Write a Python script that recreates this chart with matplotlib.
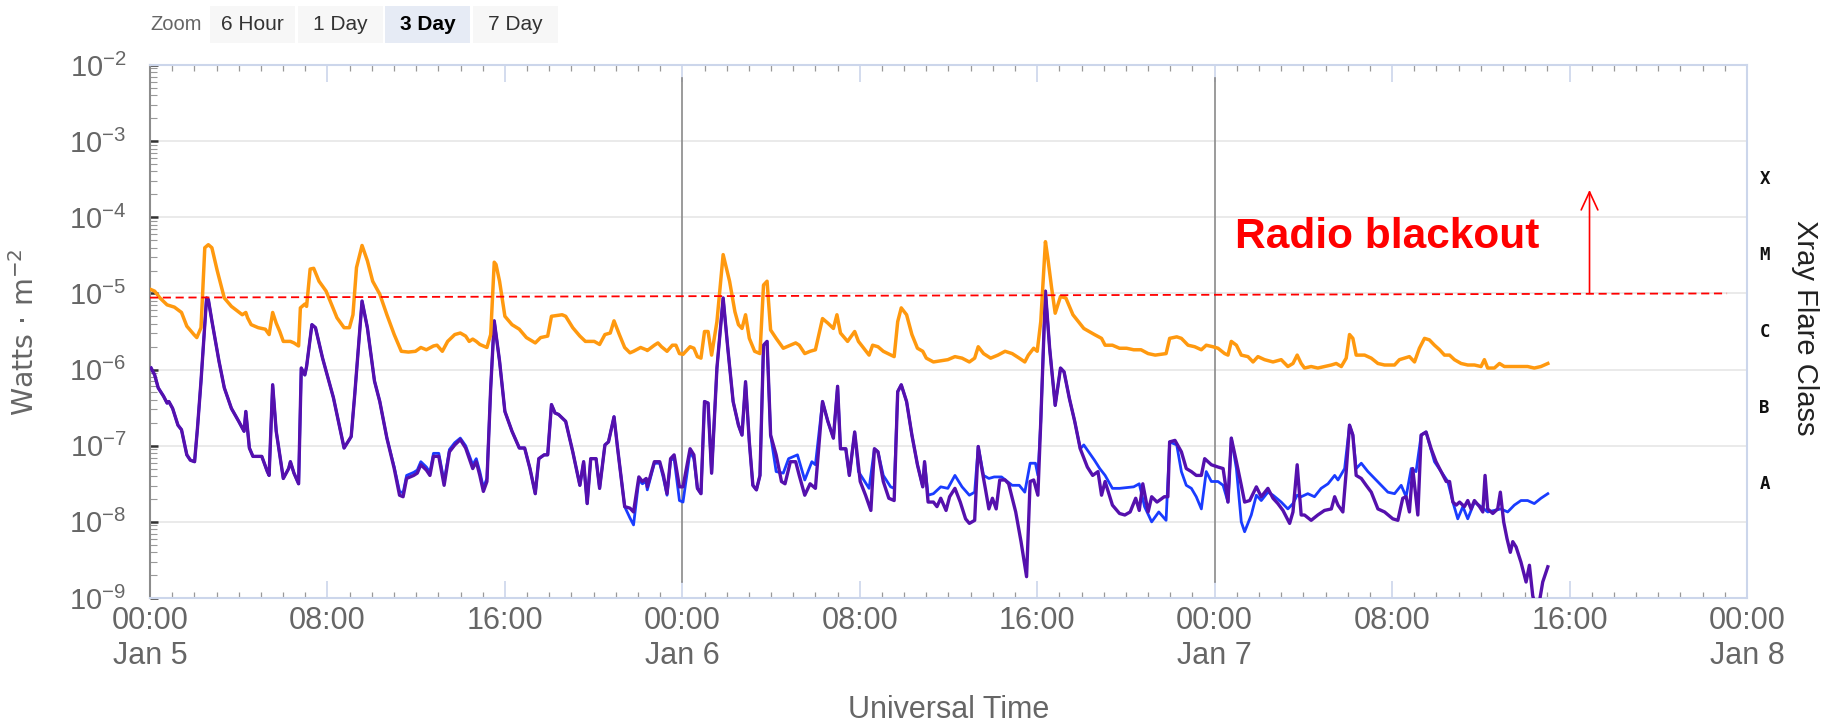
import numpy as np
import matplotlib
matplotlib.use("Agg")
import matplotlib.pyplot as plt
import matplotlib.transforms as mtransforms
from matplotlib.ticker import LogLocator, NullFormatter
from matplotlib.patches import Rectangle

plt.rcParams['font.family'] = ['Liberation Sans', 'DejaVu Sans']
plt.rcParams['mathtext.fontset'] = 'custom'
plt.rcParams['mathtext.rm'] = 'Liberation Sans'
plt.rcParams['mathtext.default'] = 'regular'

# ---- data: hours since Jan 5 00:00 UT, log10(flux in W/m^2) ----
long_hours = [
    0.05, 0.21, 0.45, 0.77, 1.10, 1.42, 1.66, 1.98, 2.11, 2.30, 2.47, 2.63, 2.79, 3.03, 3.35, 3.67, 4.16, 4.32, 4.40, 4.56,
    4.88, 5.20, 5.37, 5.53, 5.69, 5.85, 6.01, 6.33, 6.49, 6.70, 6.78, 6.98, 7.06, 7.22, 7.38, 7.62, 7.94, 8.43, 8.75, 8.99,
    9.15, 9.31, 9.56, 9.80, 10.04, 10.36, 10.68, 11.01, 11.33, 11.65, 11.97, 12.21, 12.46, 12.78, 12.94, 13.18, 13.42, 13.74, 13.99, 14.23,
    14.39, 14.55, 14.71, 14.87, 15.19, 15.36, 15.52, 15.60, 15.76, 16.00, 16.32, 16.65, 16.97, 17.37, 17.61, 17.93, 18.10, 18.58, 18.74, 19.06,
    19.38, 19.63, 19.79, 20.03, 20.27, 20.51, 20.75, 20.92, 21.16, 21.40, 21.64, 21.80, 22.12, 22.37,
    22.42, 22.74, 22.90, 23.06, 23.31, 23.55, 23.71, 23.87, 24.03, 24.35, 24.52, 24.68, 24.84, 25.00, 25.16, 25.32, 25.56, 25.84, 26.13, 26.37,
    26.53, 26.69, 26.85, 27.02, 27.26, 27.50, 27.66, 27.82, 27.98, 28.23, 28.55, 28.87, 29.11, 29.27, 29.52, 29.76, 30.00, 30.32, 30.56, 30.81,
    30.97, 31.13, 31.45, 31.77, 31.94, 32.18, 32.42, 32.58, 32.82, 33.06, 33.55, 33.71, 33.87, 34.11, 34.35, 34.60, 34.84, 35.00, 35.32, 35.97,
    36.29, 36.61, 36.94, 37.18, 37.34, 37.58, 37.90, 38.23, 38.55, 38.87, 39.19, 39.44, 39.60, 39.84, 40.00, 40.16, 40.37, 40.48, 40.65, 40.81,
    41.05, 41.29, 41.61, 42.10, 42.58, 42.90, 43.06, 43.39, 43.71, 44.03, 44.35, 44.68, 45.00, 45.32, 45.81, 45.97, 46.29,
    46.50, 46.80, 47.10, 47.40, 47.62, 47.92, 48.15, 48.45, 48.60, 48.75, 48.98, 49.20, 49.50, 49.73, 49.95, 50.25, 50.63, 51.00, 51.30, 51.53,
    51.72, 51.90, 52.05, 52.35, 52.65, 52.95, 53.26, 53.48, 53.71, 53.93, 54.08, 54.23, 54.38, 54.76, 55.06, 55.36, 55.66, 56.11, 56.33, 56.56,
    56.78, 57.01, 57.23, 57.46, 57.68, 57.91, 58.14, 58.36, 58.59, 58.81, 59.11, 59.41, 59.71, 60.01, 60.16, 60.31, 60.61, 60.84, 61.06, 61.51,
    61.81, 62.11, 62.41, 62.71, 63.02]
long_log = [
    -4.95, -4.97, -5.06, -5.15, -5.18, -5.25, -5.43, -5.54, -5.58, -5.45, -4.40, -4.36, -4.40, -4.70, -5.06, -5.17, -5.28, -5.25, -5.32, -5.41,
    -5.45, -5.47, -5.54, -5.25, -5.39, -5.50, -5.63, -5.63, -5.65, -5.69, -5.19, -5.14, -5.17, -4.68, -4.67, -4.84, -4.97, -5.32, -5.45, -5.45,
    -5.28, -4.66, -4.37, -4.57, -4.84, -5.01, -5.28, -5.54, -5.76, -5.77, -5.76, -5.71, -5.74, -5.69, -5.68, -5.76, -5.63, -5.54, -5.52, -5.56,
    -5.63, -5.60, -5.63, -5.67, -5.71, -5.54, -4.59, -4.62, -4.84, -5.30, -5.41, -5.47, -5.58, -5.65, -5.58, -5.56, -5.30, -5.28, -5.30, -5.45,
    -5.56, -5.63, -5.63, -5.63, -5.67, -5.54, -5.52, -5.36, -5.54, -5.71, -5.78, -5.76, -5.71, -5.74,
    -5.75, -5.68, -5.65, -5.70, -5.76, -5.68, -5.68, -5.79, -5.80, -5.70, -5.72, -5.83, -5.85, -5.50, -5.50, -5.81, -5.37, -4.49, -4.84, -5.24,
    -5.41, -5.46, -5.28, -5.59, -5.76, -5.79, -4.89, -4.84, -5.48, -5.59, -5.72, -5.68, -5.65, -5.68, -5.79, -5.76, -5.74, -5.33, -5.39, -5.46,
    -5.28, -5.52, -5.63, -5.50, -5.63, -5.72, -5.81, -5.68, -5.70, -5.76, -5.83, -5.37, -5.19, -5.28, -5.54, -5.72, -5.76, -5.85, -5.90, -5.87,
    -5.83, -5.85, -5.90, -5.85, -5.70, -5.79, -5.85, -5.81, -5.76, -5.79, -5.85, -5.90, -5.81, -5.72, -5.76, -5.37, -4.32, -4.54, -4.93, -5.26,
    -5.04, -5.06, -5.28, -5.46, -5.54, -5.59, -5.68, -5.68, -5.72, -5.72, -5.74, -5.74, -5.79, -5.81, -5.79, -5.59, -5.57,
    -5.59, -5.68, -5.70, -5.74, -5.68, -5.70, -5.72, -5.79, -5.81, -5.63, -5.68, -5.81, -5.83, -5.90, -5.83, -5.87, -5.90, -5.87, -5.96, -5.92,
    -5.81, -5.92, -5.98, -5.96, -5.98, -5.96, -5.94, -5.92, -5.96, -5.85, -5.54, -5.59, -5.81, -5.81, -5.85, -5.92, -5.94, -5.94, -5.87, -5.85,
    -5.83, -5.90, -5.72, -5.59, -5.61, -5.68, -5.74, -5.81, -5.81, -5.87, -5.92, -5.94, -5.94, -5.96, -5.87, -5.98, -5.98, -5.92, -5.96, -5.96,
    -5.96, -5.96, -5.98, -5.96, -5.92]

short_a_hours = [
    0.05, 0.21, 0.37, 0.61, 0.77, 0.85, 1.02, 1.26, 1.42, 1.66, 1.82, 2.01, 2.14, 2.30, 2.55, 2.63, 2.79, 3.11, 3.35, 3.67,
    4.00, 4.24, 4.32, 4.48, 4.64, 5.04, 5.29, 5.37, 5.53, 5.69, 5.85, 6.01, 6.25, 6.33, 6.49, 6.70, 6.82, 6.98, 7.06, 7.30,
    7.46, 7.78, 8.27, 8.75, 9.07, 9.23, 9.56, 9.80, 10.12, 10.36, 10.68, 11.01, 11.25, 11.41, 11.57, 11.89, 12.05, 12.21, 12.46, 12.62,
    12.78, 13.02, 13.26, 13.50, 13.74, 13.99, 14.23, 14.55, 14.71, 14.87, 15.03, 15.19, 15.36, 15.52, 15.76, 16.00, 16.32, 16.65, 16.89, 17.13,
    17.37, 17.53, 17.77, 17.93, 18.10, 18.26, 18.42, 18.74, 19.06, 19.38, 19.55, 19.71, 19.87, 20.11, 20.27, 20.51, 20.67, 20.92, 21.08, 21.40,
    21.64, 21.80, 22.04, 22.20, 22.37,
    22.42, 22.74, 22.98, 23.15, 23.31, 23.47, 23.63, 23.87, 24.03, 24.35, 24.52, 24.68, 24.84, 25.00, 25.16, 25.32, 25.56, 25.84, 26.05, 26.29,
    26.53, 26.69, 26.85, 27.02, 27.18, 27.34, 27.50, 27.66, 27.82, 27.98, 28.23, 28.55, 28.79, 29.19, 29.52, 29.84, 30.00, 30.32, 30.56, 30.81,
    31.00, 31.13, 31.37, 31.53, 31.77, 31.94, 32.42, 32.66, 32.82, 33.06, 33.39, 33.55, 33.71, 33.87, 34.11, 34.35, 34.60, 34.84, 34.92, 35.08,
    35.32, 35.65, 35.97, 36.29, 36.61, 36.94, 37.18, 37.34, 37.58, 37.82, 38.06, 38.39, 38.87, 39.19, 39.44, 39.68, 39.92, 40.03, 40.16, 40.37,
    40.56, 40.81, 41.05, 41.21, 41.45, 41.69, 41.94, 42.10, 42.58, 42.82, 43.06, 43.39, 43.71, 44.35, 44.60, 44.84, 45.16, 45.48, 45.81, 45.97,
    46.29,
    46.50, 46.72, 46.95, 47.17, 47.40, 47.62, 47.85, 48.15, 48.38, 48.60, 48.75, 48.98, 49.20, 49.35, 49.65, 49.88, 50.10, 50.40, 50.63, 51.00,
    51.30, 51.53, 51.72, 51.90, 52.20, 52.50, 52.80, 53.11, 53.41, 53.56, 53.86, 54.08, 54.23, 54.38, 54.61, 54.91, 55.21, 55.51, 55.81, 56.11,
    56.41, 56.63, 56.86, 57.08, 57.31, 57.53, 57.91, 58.21, 58.51, 58.74, 58.96, 59.19, 59.41, 59.71, 60.01, 60.31, 60.61, 60.91, 61.21, 61.51,
    61.81, 62.11, 62.41, 62.71, 63.02]
short_a_log = [
    -5.98, -6.07, -6.24, -6.35, -6.44, -6.42, -6.51, -6.73, -6.79, -7.12, -7.19, -7.21, -6.77, -6.15, -5.06, -5.08, -5.36, -5.89, -6.24, -6.51,
    -6.68, -6.81, -6.55, -7.03, -7.14, -7.14, -7.34, -7.39, -6.20, -6.81, -7.12, -7.43, -7.30, -7.21, -7.36, -7.50, -5.98, -6.07, -5.96, -5.41,
    -5.45, -5.85, -6.37, -7.03, -6.88, -6.33, -5.10, -5.45, -6.15, -6.42, -6.90, -7.28, -7.60, -7.62, -7.39, -7.35, -7.32, -7.21, -7.28, -7.35,
    -7.10, -7.10, -7.47, -7.05, -6.96, -6.90, -7.00, -7.25, -7.17, -7.34, -7.55, -7.43, -6.24, -5.36, -5.89, -6.55, -6.81, -7.03, -7.03, -7.30,
    -7.63, -7.17, -7.12, -7.12, -6.46, -6.57, -6.59, -6.68, -7.08, -7.52, -7.21, -7.76, -7.17, -7.17, -7.56, -6.99, -6.95, -6.62, -7.03, -7.80,
    -7.95, -8.04, -7.45, -7.50, -7.47,
    -7.58, -7.23, -7.23, -7.43, -7.65, -7.19, -7.17, -7.72, -7.74, -7.08, -7.17, -7.56, -7.63, -6.42, -6.44, -7.36, -5.98, -5.06, -5.72, -6.42,
    -6.73, -6.86, -6.16, -6.95, -7.52, -7.58, -7.39, -5.68, -5.63, -6.86, -7.34, -7.36, -7.17, -7.12, -7.45, -7.21, -7.25, -6.42, -6.68, -6.90,
    -6.22, -7.04, -7.04, -7.39, -6.82, -7.34, -7.56, -7.04, -7.08, -7.39, -7.54, -7.56, -6.29, -6.20, -6.42, -6.86, -7.25, -7.54, -7.21, -7.65,
    -7.63, -7.54, -7.56, -7.39, -7.54, -7.65, -7.61, -7.01, -7.39, -7.43, -7.41, -7.41, -7.52, -7.52, -7.61, -7.23, -7.23, -7.39, -6.68, -4.97,
    -5.72, -6.47, -5.98, -6.03, -6.38, -6.68, -7.04, -6.99, -7.19, -7.30, -7.39, -7.56, -7.56, -7.54, -7.50, -7.80, -8.00, -7.87, -7.98, -6.95,
    -6.99,
    -7.34, -7.52, -7.56, -7.67, -7.83, -7.34, -7.47, -7.47, -7.52, -7.74, -6.90, -7.30, -8.00, -8.13, -7.91, -7.65, -7.72, -7.61, -7.65, -7.74,
    -7.83, -7.76, -7.65, -7.67, -7.63, -7.67, -7.56, -7.50, -7.39, -7.45, -7.30, -6.73, -6.86, -7.30, -7.23, -7.34, -7.43, -7.52, -7.61, -7.63,
    -7.52, -7.67, -7.30, -7.34, -6.86, -6.82, -7.21, -7.34, -7.47, -7.74, -7.96, -7.80, -7.96, -7.74, -7.80, -7.87, -7.85, -7.83, -7.87, -7.78,
    -7.72, -7.72, -7.76, -7.69, -7.63]

short_b_hours = [
    0.05, 0.21, 0.37, 0.61, 0.77, 0.85, 1.02, 1.26, 1.42, 1.66, 1.82, 2.01, 2.14, 2.30, 2.55, 2.63, 2.79, 3.11, 3.35, 3.67,
    4.00, 4.24, 4.32, 4.48, 4.64, 5.04, 5.29, 5.37, 5.53, 5.69, 5.85, 6.01, 6.25, 6.33, 6.49, 6.70, 6.82, 6.98, 7.06, 7.30,
    7.46, 7.78, 8.27, 8.75, 9.07, 9.23, 9.56, 9.80, 10.12, 10.36, 10.68, 11.01, 11.25, 11.41, 11.57, 11.89, 12.05, 12.21, 12.46, 12.62,
    12.78, 13.02, 13.26, 13.50, 13.74, 13.99, 14.23, 14.55, 14.71, 14.87, 15.03, 15.19, 15.36, 15.52, 15.76, 16.00, 16.32, 16.65, 16.89, 17.13,
    17.37, 17.53, 17.77, 17.93, 18.10, 18.26, 18.42, 18.74, 19.06, 19.38, 19.55, 19.71, 19.87, 20.11, 20.27, 20.51, 20.67, 20.92, 21.08, 21.40,
    21.64, 21.80, 22.04, 22.20, 22.37,
    22.42, 22.74, 22.98, 23.15, 23.31, 23.47, 23.63, 23.87, 24.03, 24.35, 24.52, 24.68, 24.84, 25.00, 25.16, 25.32, 25.56, 25.84, 26.05, 26.29,
    26.53, 26.69, 26.85, 27.02, 27.18, 27.34, 27.50, 27.66, 27.82, 27.98, 28.23, 28.47, 28.63, 28.87, 29.11, 29.27, 29.52, 29.76, 30.00, 30.32,
    30.56, 30.81, 31.00, 31.13, 31.37, 31.53, 31.77, 32.02, 32.26, 32.50, 32.66, 32.82, 33.06, 33.31, 33.55, 33.71, 33.87, 34.11, 34.35, 34.60,
    34.84, 34.92, 35.08, 35.32, 35.48, 35.65, 35.89, 36.05, 36.29, 36.53, 36.77, 36.94, 37.18, 37.34, 37.50, 37.66, 37.82, 37.98, 38.15, 38.31,
    38.55, 38.71, 39.03, 39.27, 39.52, 39.68, 39.84, 40.03, 40.16, 40.37, 40.56, 40.81, 41.05, 41.21, 41.45, 41.69, 41.94, 42.26, 42.50, 42.74,
    42.90, 43.06, 43.39, 43.71, 43.95, 44.19, 44.44, 44.60, 44.76, 45.00, 45.16, 45.40, 45.73, 45.89, 45.97, 46.21,
    46.50, 46.72, 46.95, 47.17, 47.40, 47.55, 47.70, 47.85, 48.15, 48.38, 48.60, 48.75, 48.98, 49.20, 49.35, 49.58, 49.88, 50.10, 50.40, 50.63,
    50.85, 51.08, 51.38, 51.53, 51.72, 51.90, 52.05, 52.35, 52.65, 52.95, 53.26, 53.41, 53.56, 53.78, 53.93, 54.08, 54.23, 54.38, 54.61, 54.83,
    55.06, 55.36, 55.66, 56.03, 56.26, 56.48, 56.63, 56.78, 56.93, 57.16, 57.31, 57.53, 57.76, 57.98, 58.21, 58.44, 58.59, 58.74, 58.89, 59.04,
    59.26, 59.41, 59.56, 59.71, 59.94, 60.09, 60.19, 60.31, 60.54, 60.76, 60.88, 61.03, 61.18, 61.33, 61.44, 61.59, 61.81, 62.04, 62.19, 62.34,
    62.41, 62.64, 62.79, 63.02]
short_b_log = [
    -5.98, -6.07, -6.24, -6.35, -6.44, -6.42, -6.51, -6.73, -6.79, -7.12, -7.19, -7.21, -6.77, -6.15, -5.06, -5.08, -5.36, -5.89, -6.24, -6.51,
    -6.68, -6.81, -6.55, -7.03, -7.14, -7.14, -7.34, -7.39, -6.20, -6.81, -7.12, -7.43, -7.30, -7.21, -7.36, -7.50, -5.98, -6.07, -5.96, -5.41,
    -5.45, -5.85, -6.37, -7.03, -6.88, -6.33, -5.10, -5.45, -6.15, -6.42, -6.90, -7.30, -7.65, -7.67, -7.43, -7.39, -7.36, -7.25, -7.32, -7.39,
    -7.14, -7.14, -7.52, -7.08, -6.99, -6.92, -7.03, -7.30, -7.21, -7.39, -7.60, -7.47, -6.24, -5.36, -5.89, -6.55, -6.81, -7.03, -7.03, -7.30,
    -7.63, -7.17, -7.12, -7.12, -6.46, -6.57, -6.59, -6.68, -7.08, -7.52, -7.21, -7.76, -7.17, -7.17, -7.56, -6.99, -6.95, -6.62, -7.03, -7.80,
    -7.82, -7.87, -7.41, -7.47, -7.43,
    -7.54, -7.21, -7.21, -7.39, -7.63, -7.17, -7.12, -7.54, -7.54, -7.04, -7.12, -7.56, -7.63, -6.42, -6.44, -7.36, -5.98, -5.06, -5.72, -6.42,
    -6.73, -6.86, -6.16, -6.95, -7.52, -7.58, -7.39, -5.68, -5.63, -6.86, -7.12, -7.47, -7.50, -7.21, -7.21, -7.39, -7.65, -7.50, -7.56, -6.42,
    -6.68, -6.90, -6.22, -7.04, -7.04, -7.39, -6.82, -7.47, -7.65, -7.85, -7.04, -7.08, -7.47, -7.69, -7.72, -6.29, -6.20, -6.42, -6.86, -7.25,
    -7.54, -7.21, -7.74, -7.74, -7.80, -7.69, -7.85, -7.67, -7.56, -7.74, -7.96, -8.02, -7.98, -7.01, -7.30, -7.56, -7.83, -7.69, -7.83, -7.45,
    -7.45, -7.50, -7.87, -8.26, -8.72, -7.47, -7.45, -7.65, -6.68, -4.97, -5.72, -6.47, -5.98, -6.03, -6.38, -6.68, -7.04, -7.28, -7.39, -7.34,
    -7.65, -7.47, -7.78, -7.89, -7.91, -7.87, -7.69, -7.85, -7.50, -7.87, -7.67, -7.74, -7.67, -7.67, -6.95, -6.93,
    -7.08, -7.30, -7.34, -7.39, -7.39, -7.17, -7.21, -7.25, -7.28, -7.30, -7.74, -6.90, -7.21, -7.52, -7.74, -7.72, -7.54, -7.67, -7.56, -7.69,
    -7.76, -7.85, -8.02, -7.87, -7.25, -7.91, -7.91, -7.98, -7.91, -7.85, -7.83, -7.67, -7.78, -7.87, -7.34, -6.73, -6.86, -7.39, -7.43, -7.52,
    -7.61, -7.83, -7.87, -7.96, -7.98, -7.69, -7.67, -7.87, -7.30, -7.91, -6.86, -6.82, -7.04, -7.21, -7.34, -7.47, -7.47, -7.74, -7.78, -7.74,
    -7.80, -7.72, -7.83, -7.72, -7.80, -7.87, -7.39, -7.83, -7.89, -7.83, -7.61, -8.00, -8.22, -8.40, -8.26, -8.33, -8.53, -8.79, -8.57, -8.97,
    -9.05, -9.05, -8.79, -8.59]

blackout_hours = [0.0, 71.1]
blackout_log = [-5.055, -5.0]
arrow_hour = 64.9
arrow_log = [-5.0, -3.64]
day_lines = [24, 48]
decades = list(range(-9, -1))
flare_classes = ['A', 'B', 'C', 'M', 'X']
class_log = [-7.5, -6.5, -5.5, -4.5, -3.5]
tick_hours = list(range(0, 73, 8))
tick_labels = ['00:00\nJan 5', '08:00', '16:00', '00:00\nJan 6', '08:00', '16:00',
               '00:00\nJan 7', '08:00', '16:00', '00:00\nJan 8']
zoom_buttons = ['6 Hour', '1 Day', '3 Day', '7 Day']

W, H = 1833, 728
fig = plt.figure(figsize=(W / 100, H / 100), dpi=100)
ax = fig.add_axes([150 / W, (H - 598) / H, 1597 / W, 533 / H])

ax.plot(short_a_hours, 10.0 ** np.array(short_a_log), color='#1a3cff', lw=2.0, zorder=3)
ax.plot(short_b_hours, 10.0 ** np.array(short_b_log), color='#5510ad', lw=2.4, zorder=4)
ax.plot(long_hours, 10.0 ** np.array(long_log), color='#ff990f', lw=2.5, zorder=4)

ax.plot(blackout_hours, 10.0 ** np.array(blackout_log), color='red', lw=1.3,
        linestyle=(0, (4.5, 2.6)), zorder=5)
ax.annotate('', xy=(arrow_hour, 10.0 ** arrow_log[1]), xytext=(arrow_hour, 10.0 ** arrow_log[0]),
            arrowprops=dict(arrowstyle='->,head_length=1.3,head_width=0.6', color='red', lw=1.2,
                            shrinkA=0, shrinkB=0), zorder=5)
ax.text(48.9, 10 ** -4.40, 'Radio blackout', color='red', fontsize=30.5, fontweight='bold',
        va='baseline', ha='left', zorder=6)

for d in day_lines:
    ax.axvline(d, ymin=0.03, ymax=0.975, color='#8a8a8a', lw=1.2, zorder=2)

ax.set_yscale('log')
ax.set_ylim(1e-9, 1e-2)
ax.set_xlim(0, 72)

ax.set_yticks([10.0 ** e for e in decades])
ax.set_yticklabels([r'$10^{%d}$' % e for e in decades])
ax.yaxis.set_minor_locator(LogLocator(base=10, subs=np.arange(2, 10), numticks=50))
ax.yaxis.set_minor_formatter(NullFormatter())
ax.set_xticks(tick_hours)
ax.set_xticklabels(tick_labels)
ax.set_xticks(range(0, 73), minor=True)

ax.tick_params(axis='y', which='major', direction='in', length=6, width=1.8, color='#333333',
               labelsize=21, labelcolor='#666666', pad=17, right=False)
ax.tick_params(axis='y', which='minor', direction='in', length=5, width=0.8, color='#999999', right=False)
ax.tick_params(axis='x', which='major', direction='in', length=12, width=1.2, color='#ccd6eb',
               labelsize=22, labelcolor='#666666', pad=6, top=True)
ax.tick_params(axis='x', which='minor', direction='in', length=4.5, width=0.9, color='#999999', top=True)

ax.grid(axis='y', which='major', color='#e6e6e6', lw=1.2)
ax.set_axisbelow(True)
for side in ['top', 'bottom', 'right']:
    ax.spines[side].set_color('#ccd6eb')
    ax.spines[side].set_linewidth(1.5)
ax.spines['left'].set_color('#8c8c8c')
ax.spines['left'].set_linewidth(1.5)

trans = mtransforms.blended_transform_factory(ax.transAxes, ax.transData)
for c, v in zip(flare_classes, class_log):
    ax.text(1.011, 10 ** v, c, transform=trans, fontsize=12.5, fontweight='bold',
            family='DejaVu Sans Mono', color='#111111', ha='center', va='center')

fig.text(25 / W, 1 - 332 / H, 'Watts · m$^{-2}$', rotation=90, ha='center', va='center',
         fontsize=20.5, color='#666666', family='DejaVu Sans')
fig.text(949 / W, 1 - 710 / H, 'Universal Time', ha='center', va='center', fontsize=22, color='#666666')
fig.text(1805 / W, 1 - 328 / H, 'Xray Flare Class', rotation=270, ha='center', va='center',
         fontsize=21, color='#222222')

# range selector buttons
fig.text(176 / W, 1 - 25 / H, 'Zoom', ha='center', va='center', fontsize=14.5, color='#666666')
btn_x = [210, 298, 385, 473]
for i, lab in enumerate(zoom_buttons):
    sel = lab == '3 Day'
    fig.patches.append(Rectangle((btn_x[i] / W, 1 - 43 / H), 85 / W, 37 / H, transform=fig.transFigure,
                                 facecolor='#e6ebf5' if sel else '#f7f7f7', edgecolor='none'))
    fig.text((btn_x[i] + 42.5) / W, 1 - 25 / H, lab, ha='center', va='center', fontsize=15,
             color='#000000' if sel else '#333333', fontweight='bold' if sel else 'normal')

fig.savefig('out.png', dpi=100)
